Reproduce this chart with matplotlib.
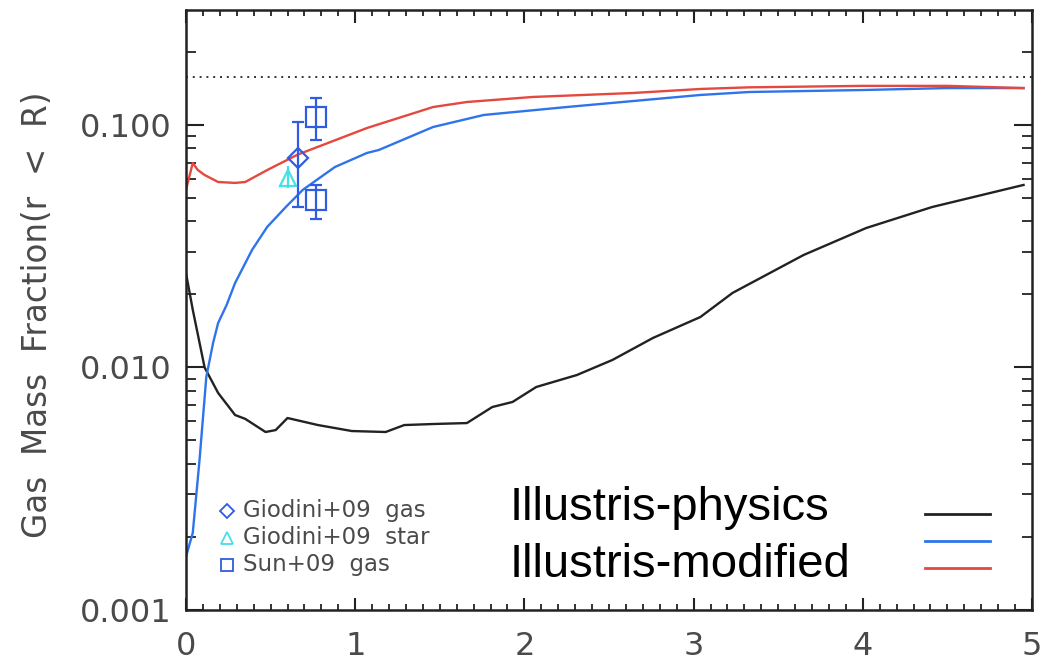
import matplotlib.pyplot as plt
import numpy as np
from matplotlib.ticker import FixedLocator, MultipleLocator, LogLocator, NullFormatter

# radius (R / R500) and gas mass fractions inside r < R
r_phys = [0.0, 0.04, 0.11, 0.19, 0.29, 0.35, 0.47, 0.53, 0.60, 0.78, 0.98, 1.18, 1.29,
          1.47, 1.66, 1.81, 1.93, 2.07, 2.31, 2.52, 2.76, 3.04, 3.23, 3.65, 4.02, 4.41, 4.95]
f_phys = [0.0245, 0.0173, 0.0100, 0.00785, 0.00637, 0.00614, 0.00542, 0.00552, 0.00619,
          0.00579, 0.00547, 0.00542, 0.00579, 0.00585, 0.0059, 0.00687, 0.00721, 0.00831,
          0.00931, 0.01074, 0.01324, 0.01615, 0.0203, 0.0291, 0.0376, 0.0459, 0.0566]

r_mod = [0.0, 0.04, 0.08, 0.12, 0.16, 0.19, 0.24, 0.29, 0.39, 0.48, 0.59, 0.69, 0.88,
         1.07, 1.14, 1.46, 1.76, 2.25, 2.84, 3.04, 3.33, 4.0, 4.5, 4.95]
f_mod = [0.00166, 0.00208, 0.00416, 0.00914, 0.01262, 0.01527, 0.0181, 0.0223, 0.0305,
         0.0380, 0.0459, 0.0540, 0.0671, 0.0767, 0.0789, 0.0981, 0.110, 0.1186, 0.1292,
         0.133, 0.1368, 0.1394, 0.142, 0.142]

r_mod2 = [0.0, 0.04, 0.07, 0.11, 0.19, 0.29, 0.35, 0.48, 0.66, 1.07, 1.46, 1.66, 2.05,
          2.64, 3.04, 3.33, 4.0, 4.5, 4.95]
f_mod2 = [0.0540, 0.0697, 0.0652, 0.0622, 0.0582, 0.0577, 0.0582, 0.0652, 0.0755, 0.0972,
          0.1186, 0.1244, 0.1305, 0.1355, 0.1408, 0.143, 0.145, 0.145, 0.142]

f_baryon = 0.158

# observations
giodini_gas = dict(r=0.66, f=0.073, lo=0.046, hi=0.103)
giodini_star = dict(r=0.60, f=0.0605, lo=0.055, hi=0.068)
sun_r = [0.77, 0.77]
sun_f = [0.108, 0.049]
sun_lo = [0.087, 0.041]
sun_hi = [0.129, 0.0566]

c_black = '#222222'
c_blue = '#2f74ea'
c_red = '#e5483f'
c_obs = '#2f5ce0'
c_cyan = '#45e0e6'
c_text = '#4a4a4a'

fig = plt.figure(figsize=(10.45, 6.66), dpi=100)
ax = fig.add_axes([186 / 1045, 1 - 610 / 666, 846 / 1045, 600 / 666])

ax.plot(r_phys, f_phys, color=c_black, lw=1.7)
ax.plot(r_mod, f_mod, color=c_blue, lw=1.7)
ax.plot(r_mod2, f_mod2, color=c_red, lw=1.7)
ax.axhline(f_baryon, color='#333333', lw=1.4, ls=(0, (1, 2.5)))

ax.errorbar([giodini_gas['r']], [giodini_gas['f']],
            yerr=[[giodini_gas['f'] - giodini_gas['lo']], [giodini_gas['hi'] - giodini_gas['f']]],
            fmt='D', ms=10, mfc='none', mec=c_obs, mew=1.6, ecolor=c_obs, elinewidth=1.6,
            capsize=4.5, capthick=1.6)
ax.errorbar([giodini_star['r']], [giodini_star['f']],
            yerr=[[giodini_star['f'] - giodini_star['lo']], [giodini_star['hi'] - giodini_star['f']]],
            fmt='^', ms=11, mfc='none', mec=c_cyan, mew=1.6, ecolor=c_cyan, elinewidth=1.6,
            capsize=0)
ax.errorbar(sun_r, sun_f,
            yerr=[np.array(sun_f) - np.array(sun_lo), np.array(sun_hi) - np.array(sun_f)],
            fmt='s', ms=15, mfc='none', mec=c_obs, mew=1.6, ecolor=c_obs, elinewidth=1.6,
            capsize=4.5, capthick=1.6, ls='none')

ax.set_yscale('log')
ax.set_xlim(0, 5)
ax.set_ylim(0.001, 0.298)

ax.xaxis.set_major_locator(MultipleLocator(1))
ax.xaxis.set_minor_locator(MultipleLocator(0.1))
ax.yaxis.set_major_locator(FixedLocator([0.001, 0.01, 0.1]))
ax.yaxis.set_minor_locator(LogLocator(base=10, subs=np.arange(2, 10)))
ax.yaxis.set_minor_formatter(NullFormatter())
ax.set_yticklabels(['0.001', '0.010', '0.100'])
ax.set_xticks([0, 1, 2, 3, 4, 5])
ax.set_xticklabels(['0', '1', '2', '3', '4', '5'])

ax.tick_params(which='both', direction='in', top=True, right=True, colors='#222222',
               labelcolor=c_text, labelsize=23)
ax.tick_params(axis='y', which='major', length=13, width=1.5, pad=10)
ax.tick_params(axis='y', which='minor', length=7, width=1.3)
ax.tick_params(axis='x', which='major', length=9, width=1.5, pad=15)
ax.tick_params(axis='x', which='minor', length=4, width=1.3)
for sp in ax.spines.values():
    sp.set_linewidth(1.8)
    sp.set_color('#222222')

fig.text(38 / 1045, 1 - 315 / 666, 'Gas  Mass  Fraction(r  <  R)', rotation=90,
         ha='center', va='center', fontsize=23.5, color=c_text)

# small legend for the observations
obs_rows = [('D', 7, c_obs, 'Giodini+09  gas'),
            ('^', 9, c_cyan, 'Giodini+09  star'),
            ('s', 9, c_obs, 'Sun+09  gas')]
for i, (mk, ms, col, lab) in enumerate(obs_rows):
    yy = 0.165 - i * 0.045
    ax.plot([0.0485], [yy], marker=mk, ms=ms, mfc='none', mec=col, mew=1.3,
            transform=ax.transAxes, clip_on=False)
    ax.text(0.0674, yy, lab, transform=ax.transAxes, fontsize=16.5, color=c_text,
            va='center', ha='left')

# simulation legend
fig.text(510 / 1045, 1 - 520 / 666, 'Illustris-physics', fontsize=34,
         family='Liberation Sans', color='black', va='baseline')
fig.text(510 / 1045, 1 - 577 / 666, 'Illustris-modified', fontsize=34,
         family='Liberation Sans', color='black', va='baseline')
for yy, col in [(0.16, c_black), (0.115, c_blue), (0.07, c_red)]:
    ax.plot([0.8735, 0.95], [yy, yy], color=col, lw=2, transform=ax.transAxes)

fig.savefig('out.png', dpi=100)
